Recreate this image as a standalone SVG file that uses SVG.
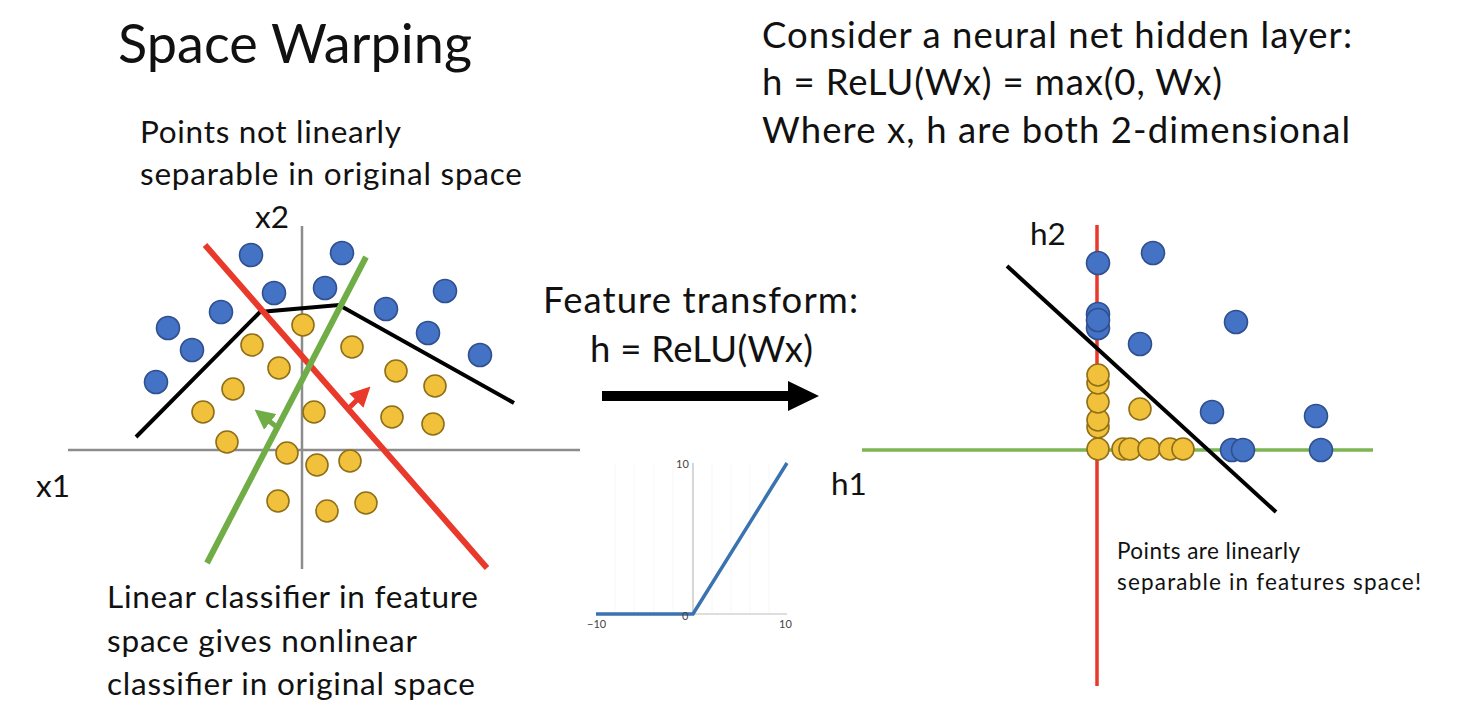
<svg xmlns="http://www.w3.org/2000/svg" width="1458" height="724" viewBox="0 0 1458 724">
<defs>
<style>
text{font-family:Lato,"Open Sans","Liberation Sans",sans-serif;fill:#111}
.t{font-size:31.5px}
.big{font-size:36.5px}
.sm{font-size:22.5px}
.tick{font-size:11px;fill:#444}
.ax{stroke:#8c8c8c;stroke-width:2.5}
.b{fill:#4472C4;stroke:#2F4F8F;stroke-width:1.6}
.y{fill:#F2C13C;stroke:#8E6F17;stroke-width:1.6}
</style>
<marker id="ra" viewBox="0 0 10 10" refX="4" refY="5" markerWidth="4" markerHeight="4" orient="auto"><path d="M0,0L10,5L0,10z" fill="#E8392A"/></marker>
<marker id="ga" viewBox="0 0 10 10" refX="4" refY="5" markerWidth="4" markerHeight="4" orient="auto"><path d="M0,0L10,5L0,10z" fill="#70AD47"/></marker>
</defs>
<rect width="1458" height="724" fill="#fff"/>

<g id="title"><text x="118" y="63" style="font-size:54px" textLength="354">Space Warping</text></g>
<g id="left-caption">
<text class="t" x="140" y="143" textLength="261">Points not linearly</text>
<text class="t" x="140" y="185" textLength="382">separable in original space</text>
</g>
<g id="right-caption">
<text class="big" x="762" y="48" textLength="590">Consider a neural net hidden layer:</text>
<text class="big" x="762" y="95" textLength="460">h = ReLU(Wx) = max(0, Wx)</text>
<text class="big" x="762" y="143" textLength="588">Where x, h are both 2-dimensional</text>
</g>

<g id="original-space">
<line class="ax" x1="68" y1="450" x2="580" y2="450"/>
<line class="ax" x1="302" y1="226" x2="302" y2="569"/>
<text class="t" x="255" y="228">x2</text>
<text class="t" x="36" y="497">x1</text>
<g id="blue-points-left">
<circle class="b" cx="251" cy="255" r="11.5"/>
<circle class="b" cx="342" cy="253" r="11.5"/>
<circle class="b" cx="274" cy="293" r="11.5"/>
<circle class="b" cx="325" cy="288" r="11.5"/>
<circle class="b" cx="445" cy="291" r="11.5"/>
<circle class="b" cx="221" cy="312" r="11.5"/>
<circle class="b" cx="386" cy="309" r="11.5"/>
<circle class="b" cx="168" cy="328" r="11.5"/>
<circle class="b" cx="192" cy="350" r="11.5"/>
<circle class="b" cx="428" cy="333" r="11.5"/>
<circle class="b" cx="480" cy="355" r="11.5"/>
<circle class="b" cx="156" cy="382" r="11.5"/>
</g>
<g id="yellow-points-left">
<circle class="y" cx="303" cy="325" r="11"/>
<circle class="y" cx="252" cy="345" r="11"/>
<circle class="y" cx="352" cy="347" r="11"/>
<circle class="y" cx="279" cy="368" r="11"/>
<circle class="y" cx="396" cy="371" r="11"/>
<circle class="y" cx="233" cy="389" r="11"/>
<circle class="y" cx="435" cy="386" r="11"/>
<circle class="y" cx="203" cy="412" r="11"/>
<circle class="y" cx="314" cy="412" r="11"/>
<circle class="y" cx="392" cy="417" r="11"/>
<circle class="y" cx="433" cy="424" r="11"/>
<circle class="y" cx="227" cy="442" r="11"/>
<circle class="y" cx="287" cy="453" r="11"/>
<circle class="y" cx="317" cy="465" r="11"/>
<circle class="y" cx="350" cy="461" r="11"/>
<circle class="y" cx="278" cy="501" r="11"/>
<circle class="y" cx="327" cy="511" r="11"/>
<circle class="y" cx="366" cy="503" r="11"/>
</g>
<polyline points="136,437 260,312 339,305 514,403" fill="none" stroke="#000" stroke-width="4"/>
<line x1="205" y1="245" x2="487" y2="568" stroke="#E8392A" stroke-width="6"/>
<line x1="207" y1="563" x2="366" y2="257" stroke="#70AD47" stroke-width="6"/>
<line x1="350" y1="407" x2="362" y2="395" stroke="#E8392A" stroke-width="5" marker-end="url(#ra)"/>
<line x1="278" y1="428" x2="264" y2="417" stroke="#70AD47" stroke-width="5" marker-end="url(#ga)"/>
</g>

<g id="bottom-caption">
<text class="t" x="107" y="608" textLength="371">Linear classifier in feature</text>
<text class="t" x="107" y="652" textLength="310">space gives nonlinear</text>
<text class="t" x="107" y="695" textLength="368">classifier in original space</text>
</g>

<g id="transform">
<text class="big" x="543" y="313" textLength="315">Feature transform:</text>
<text class="big" x="590" y="362" textLength="223">h = ReLU(Wx)</text>
</g>
<g id="connectors">
<path d="M602,391 H788 V381 L819,396 L788,411 V401 H602 Z" fill="#000"/>
</g>

<g id="relu-plot">
<g stroke="#f7f7f7" stroke-width="1">
<line x1="615" y1="463" x2="615" y2="614"/><line x1="634" y1="463" x2="634" y2="614"/>
<line x1="654" y1="463" x2="654" y2="614"/><line x1="673" y1="463" x2="673" y2="614"/>
<line x1="712" y1="463" x2="712" y2="614"/><line x1="731" y1="463" x2="731" y2="614"/>
<line x1="750" y1="463" x2="750" y2="614"/><line x1="769" y1="463" x2="769" y2="614"/>
</g>
<line x1="693" y1="463" x2="693" y2="614" stroke="#bdbdbd" stroke-width="1.2"/>
<line x1="596" y1="614" x2="787" y2="614" stroke="#bdbdbd" stroke-width="1.2"/>
<polyline points="596,614 693,614 787,463" fill="none" stroke="#3A73B0" stroke-width="3.5"/>
<text class="tick" x="676" y="468">10</text>
<text class="tick" x="682" y="620">0</text>
<text class="tick" x="587" y="628">−10</text>
<text class="tick" x="779" y="628">10</text>
</g>

<g id="feature-space">
<line x1="862" y1="450" x2="1373" y2="450" stroke="#7DB553" stroke-width="3.5"/>
<line x1="1097" y1="225" x2="1097" y2="686" stroke="#E8392A" stroke-width="3.5"/>
<text class="t" x="1030" y="245">h2</text>
<text class="t" x="831" y="495">h1</text>
<g id="blue-points-right">
<circle class="b" cx="1098" cy="263" r="11.5"/>
<circle class="b" cx="1153" cy="253" r="11.5"/>
<circle class="b" cx="1098" cy="328" r="11.5"/>
<circle class="b" cx="1098" cy="314" r="11.5"/>
<circle class="b" cx="1098" cy="320" r="11.5"/>
<circle class="b" cx="1140" cy="344" r="11.5"/>
<circle class="b" cx="1236" cy="322" r="11.5"/>
<circle class="b" cx="1212" cy="412" r="11.5"/>
<circle class="b" cx="1316" cy="416" r="11.5"/>
<circle class="b" cx="1232" cy="450" r="11.5"/>
<circle class="b" cx="1243" cy="450" r="11.5"/>
<circle class="b" cx="1321" cy="450" r="11.5"/>
</g>
<g id="yellow-points-right">
<circle class="y" cx="1098" cy="449" r="11"/>
<circle class="y" cx="1098" cy="427" r="11"/>
<circle class="y" cx="1098" cy="420" r="11"/>
<circle class="y" cx="1098" cy="402" r="11"/>
<circle class="y" cx="1098" cy="383" r="11"/>
<circle class="y" cx="1098" cy="375" r="11"/>
<circle class="y" cx="1140" cy="409" r="11"/>
<circle class="y" cx="1123" cy="449" r="11"/>
<circle class="y" cx="1130" cy="449" r="11"/>
<circle class="y" cx="1149" cy="449" r="11"/>
<circle class="y" cx="1170" cy="449" r="11"/>
<circle class="y" cx="1183" cy="449" r="11"/>
</g>
<line x1="1007" y1="266" x2="1276" y2="512" stroke="#000" stroke-width="4"/>
</g>

<g id="right-note">
<text class="sm" x="1117" y="559" textLength="183">Points are linearly</text>
<text class="sm" x="1117" y="590" textLength="304">separable in features space!</text>
</g>
</svg>
